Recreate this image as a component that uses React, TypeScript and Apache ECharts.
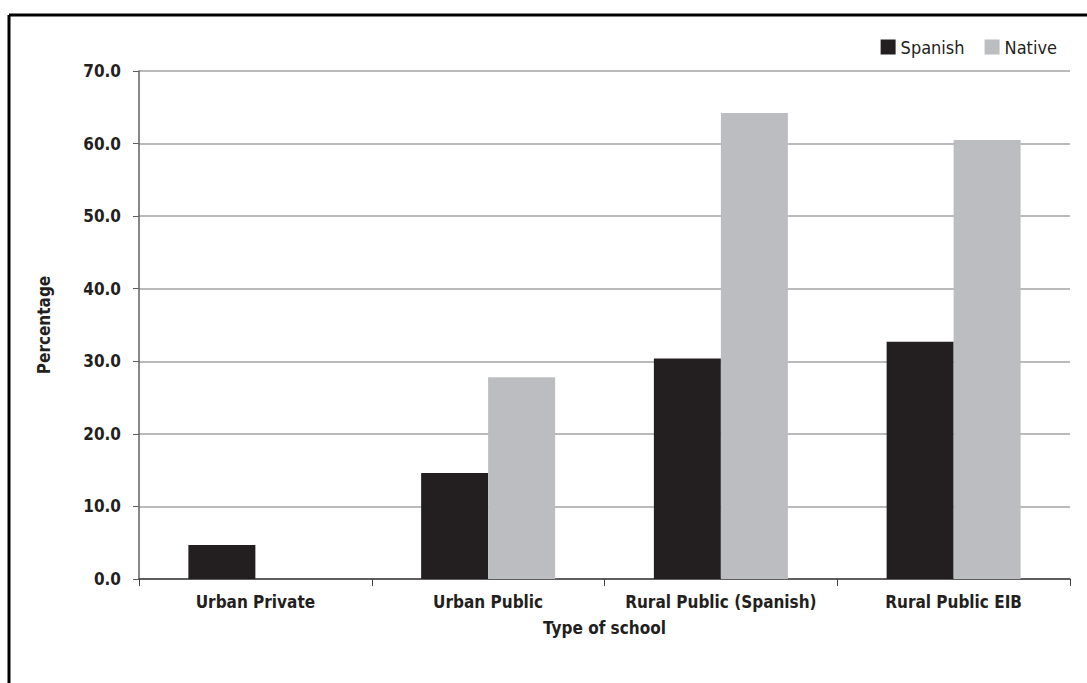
import React, { useEffect, useRef } from "react";
import * as echarts from "echarts";

const categories = ["Urban Private", "Urban Public", "Rural Public (Spanish)", "Rural Public EIB"];
const spanishValues = [4.7, 14.6, 30.4, 32.7];
const nativeValues = [null, 27.8, 64.2, 60.5];
const seriesNames = ["Spanish", "Native"];

const FONT = "'DejaVu Sans Condensed', 'Liberation Sans Narrow', sans-serif";
const TEXT = "#231f20";

export default function App() {
  const ref = useRef<HTMLDivElement>(null);
  useEffect(() => {
    const chart = echarts.init(ref.current!, null, { renderer: "svg" });
    chart.setOption({
      animation: false,
      backgroundColor: "#ffffff",
      textStyle: { fontFamily: FONT },
      graphic: [
        { type: "line", shape: { x1: 9, y1: 15, x2: 1087, y2: 15 }, style: { stroke: "#000", lineWidth: 3 } },
        { type: "line", shape: { x1: 9, y1: 15, x2: 9, y2: 683 }, style: { stroke: "#000", lineWidth: 3 } },
      ],
      legend: {
        data: seriesNames,
        right: 25,
        top: 33,
        itemWidth: 15,
        itemHeight: 15,
        itemGap: 20,
        icon: "rect",
        textStyle: { fontFamily: FONT, fontSize: 18, color: TEXT },
      },
      grid: { left: 139, right: 17, top: 71, bottom: 104, containLabel: false },
      xAxis: {
        type: "category",
        data: categories,
        name: "Type of school",
        nameLocation: "middle",
        nameGap: 40,
        nameTextStyle: { fontFamily: FONT, fontSize: 17, fontWeight: "bold", color: TEXT },
        axisLine: { lineStyle: { color: "#404040", width: 1.5 } },
        axisTick: { show: true, length: 7, lineStyle: { color: "#404040" } },
        axisLabel: { interval: 0, fontFamily: FONT, fontSize: 17, fontWeight: "bold", color: TEXT, margin: 14 },
      },
      yAxis: {
        type: "value",
        min: 0,
        max: 70,
        interval: 10,
        name: "Percentage",
        nameLocation: "middle",
        nameGap: 87,
        nameRotate: 90,
        nameTextStyle: { fontFamily: FONT, fontSize: 17, fontWeight: "bold", color: TEXT },
        axisLine: { show: true, lineStyle: { color: "#606060", width: 1.5 } },
        axisTick: { show: true, length: 6, lineStyle: { color: "#606060" } },
        axisLabel: {
          fontFamily: FONT, fontSize: 17, fontWeight: "bold", color: TEXT, margin: 18,
          formatter: (v: number) => v.toFixed(1),
        },
        splitLine: { lineStyle: { color: "#a3a3a6", width: 1.5 } },
      },
      series: [
        {
          name: seriesNames[0],
          type: "bar",
          data: spanishValues,
          barWidth: 67,
          barGap: "0%",
          itemStyle: { color: "#231f20" },
        },
        {
          name: seriesNames[1],
          type: "bar",
          data: nativeValues,
          barWidth: 67,
          barGap: "0%",
          itemStyle: { color: "#bcbdc1" },
        },
      ],
    });
    return () => chart.dispose();
  }, []);
  return (
    <div
      ref={ref}
      style={{ position: "absolute", left: 0, top: 0, width: 1087, height: 683 }}
    />
  );
}
